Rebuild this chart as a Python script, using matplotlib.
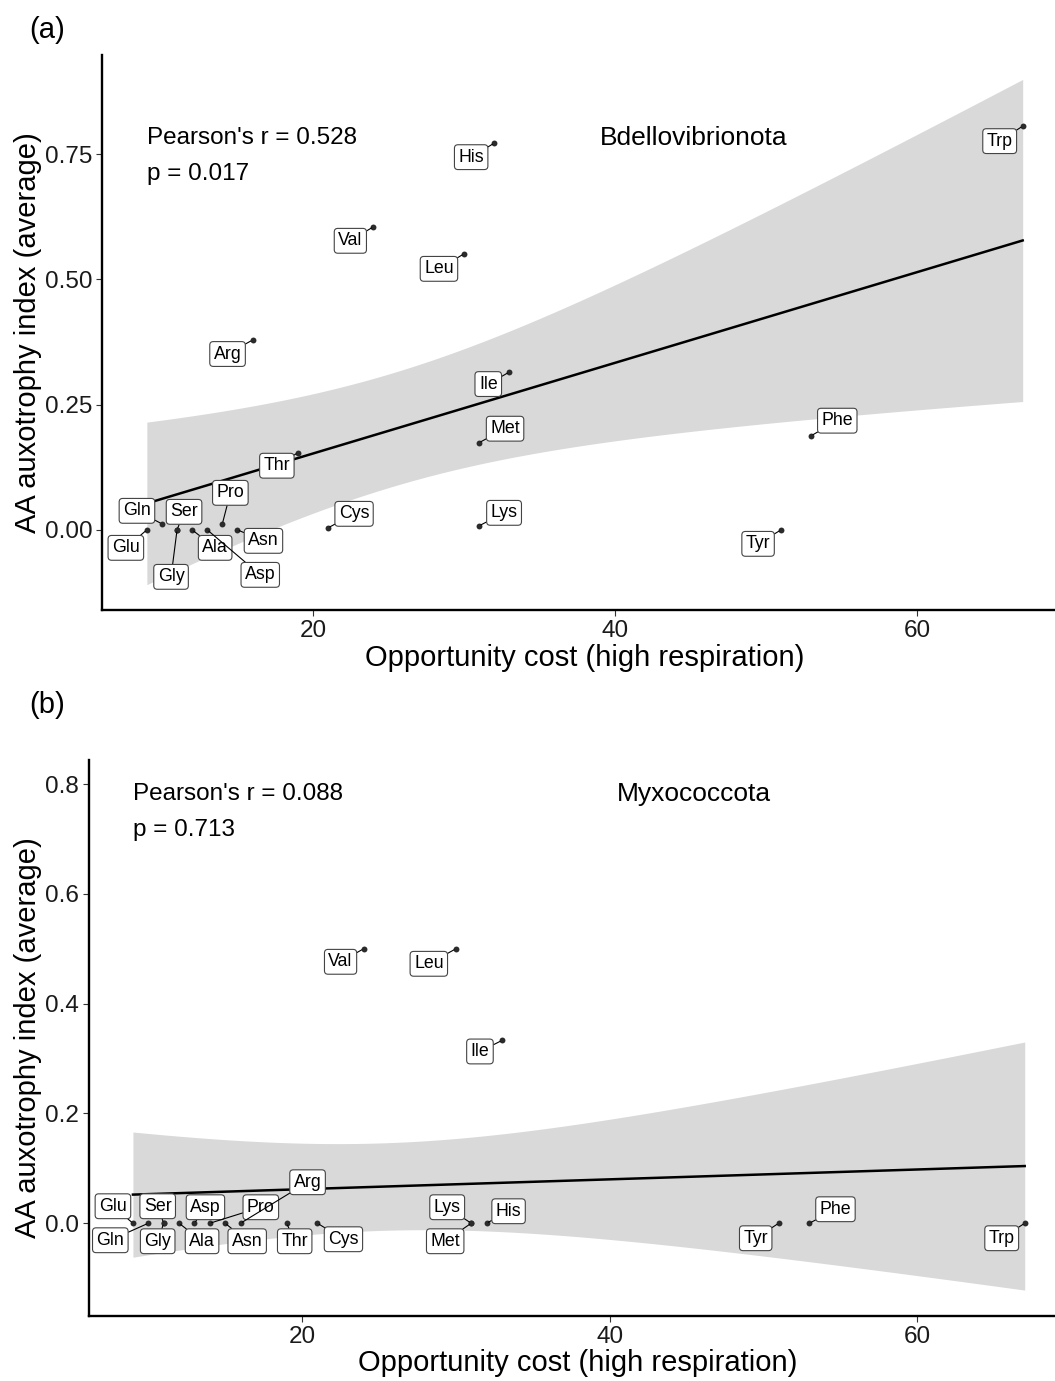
import numpy as np
import matplotlib
matplotlib.use("Agg")
import matplotlib.pyplot as plt

plt.rcParams['font.family'] = ['Liberation Sans', 'DejaVu Sans']

# amino acids, opportunity cost (high respiration) and auxotrophy index
aa = ['Glu', 'Gln', 'Ser', 'Gly', 'Ala', 'Asp', 'Pro', 'Asn', 'Arg', 'Thr',
      'Cys', 'Val', 'Leu', 'Met', 'Lys', 'His', 'Ile', 'Tyr', 'Phe', 'Trp']
cost = [9, 10, 11, 11, 12, 13, 14, 15, 16, 19,
        21, 24, 30, 31, 31, 32, 33, 51, 53, 67]
aux_bdello = [0.0, 0.012, 0.0, 0.0, 0.0, 0.0, 0.012, 0.0, 0.379, 0.154,
              0.004, 0.605, 0.551, 0.174, 0.008, 0.772, 0.315, 0.0, 0.188, 0.806]
aux_myxo = [0.0, 0.0, 0.0, 0.0, 0.0, 0.0, 0.0, 0.0, 0.0, 0.0,
            0.0, 0.5, 0.5, 0.0, 0.0, 0.0, 0.333, 0.0, 0.0, 0.0]

# label offsets (pixels) from each point
off_a = {'Trp': (-23, -15), 'His': (-23, -14), 'Val': (-23, -14), 'Leu': (-25, -15),
         'Arg': (-25, -14), 'Ile': (-21, -12), 'Met': (26, 14), 'Phe': (26, 15),
         'Thr': (-21, -13), 'Cys': (26, 14), 'Lys': (25, 13), 'Tyr': (-23, -14),
         'Pro': (8, 31), 'Gln': (-25, 13), 'Glu': (-21, -18), 'Ser': (7, 18),
         'Gly': (-6, -47), 'Ala': (23, -18), 'Asp': (53, -45), 'Asn': (26, -11)}
off_b = {'Glu': (-20, 17), 'Gln': (-38, -17), 'Ser': (-6, 17), 'Gly': (-6, -18),
         'Asp': (11, 16), 'Ala': (23, -18), 'Pro': (51, 16), 'Asn': (22, -18),
         'Arg': (67, 41), 'Thr': (8, -18), 'Cys': (26, -16), 'Lys': (-24, 16),
         'Met': (-26, -18), 'His': (22, 12), 'Tyr': (-23, -15), 'Phe': (26, 14),
         'Trp': (-23, -15), 'Val': (-23, -13), 'Leu': (-27, -15), 'Ile': (-22, -11)}


def lm_band(x, y, xs):
    x = np.asarray(x, float)
    y = np.asarray(y, float)
    n = len(x)
    b, a = np.polyfit(x, y, 1)
    res = y - (a + b * x)
    s = np.sqrt(np.sum(res ** 2) / (n - 2))
    sxx = np.sum((x - x.mean()) ** 2)
    se = s * np.sqrt(1 / n + (xs - x.mean()) ** 2 / sxx)
    fit = a + b * xs
    t = 2.1009  # t(0.975, df=18)
    return fit, fit - t * se, fit + t * se


def panel(ax, y, offs, r_txt, p_txt, taxon, txt_y, xlim, ylim, yticks, yfmt):
    xs = np.linspace(min(cost), max(cost), 200)
    fit, lo, hi = lm_band(cost, y, xs)
    ax.fill_between(xs, lo, hi, color='#d9d9d9', lw=0, zorder=1)
    ax.plot(xs, fit, color='black', lw=1.8, zorder=2)
    ax.scatter(cost, y, s=18, color='#2b2b2b', zorder=4, linewidths=0)
    for name, cx, cy in zip(aa, cost, y):
        dx, dy = offs[name]
        ax.annotate(name, (cx, cy), xytext=(dx, dy), textcoords='offset pixels',
                    ha='center', va='center', fontsize=12.8, zorder=5,
                    bbox=dict(boxstyle='round,pad=0.22,rounding_size=0.2',
                              fc='white', ec='#444444', lw=0.8),
                    arrowprops=dict(arrowstyle='-', color='black', lw=0.8,
                                    shrinkA=0, shrinkB=1.5))
    ax.text(9, txt_y[0], r_txt, fontsize=17.5, ha='left', va='center')
    ax.text(9, txt_y[1], p_txt, fontsize=17.5, ha='left', va='center')
    ax.text(txt_y[2], txt_y[0], taxon, fontsize=19, ha='center', va='center')
    ax.set_xlim(*xlim)
    ax.set_ylim(*ylim)
    ax.set_xticks([20, 40, 60])
    ax.set_yticks(yticks)
    ax.set_yticklabels([yfmt.format(v) for v in yticks])
    for sp in ['top', 'right']:
        ax.spines[sp].set_visible(False)
    for sp in ['left', 'bottom']:
        ax.spines[sp].set_linewidth(1.7)
    ax.tick_params(labelsize=17.5, length=4, width=0.8, color='#333333',
                   labelcolor='#1a1a1a', pad=3)


fig = plt.figure(figsize=(10.55, 13.81), dpi=100)
W, H = 1055, 1381

ax1 = fig.add_axes([102 / W, 1 - 610 / H, (W - 102) / W, (610 - 55) / H])
panel(ax1, aux_bdello, off_a, "Pearson's r = 0.528", "p = 0.017", 'Bdellovibrionota',
      (0.782, 0.711, 45.2), (6.03, 69.14), (-0.16, 0.948), [0, 0.25, 0.5, 0.75], '{:.2f}')

ax2 = fig.add_axes([88.5 / W, 1 - 1316 / H, (W - 88.5) / W, (1316 - 760) / H])
panel(ax2, aux_myxo, off_b, "Pearson's r = 0.088", "p = 0.713", 'Myxococcota',
      (0.782, 0.716, 45.5), (6.11, 68.97), (-0.169, 0.844), [0, 0.2, 0.4, 0.6, 0.8], '{:.1f}')

for ypx, lab in [(30, '(a)'), (705, '(b)')]:
    fig.text(47 / W, 1 - ypx / H, lab, fontsize=21, ha='center', va='center')
for ypx, xpx in [(658, 585), (1363, 578)]:
    fig.text(xpx / W, 1 - ypx / H, 'Opportunity cost (high respiration)',
             fontsize=21, ha='center', va='center')
for ypx in [333, 1038]:
    fig.text(28 / W, 1 - ypx / H, 'AA auxotrophy index (average)',
             fontsize=21, ha='center', va='center', rotation=90)

fig.savefig('out.png', dpi=100)
